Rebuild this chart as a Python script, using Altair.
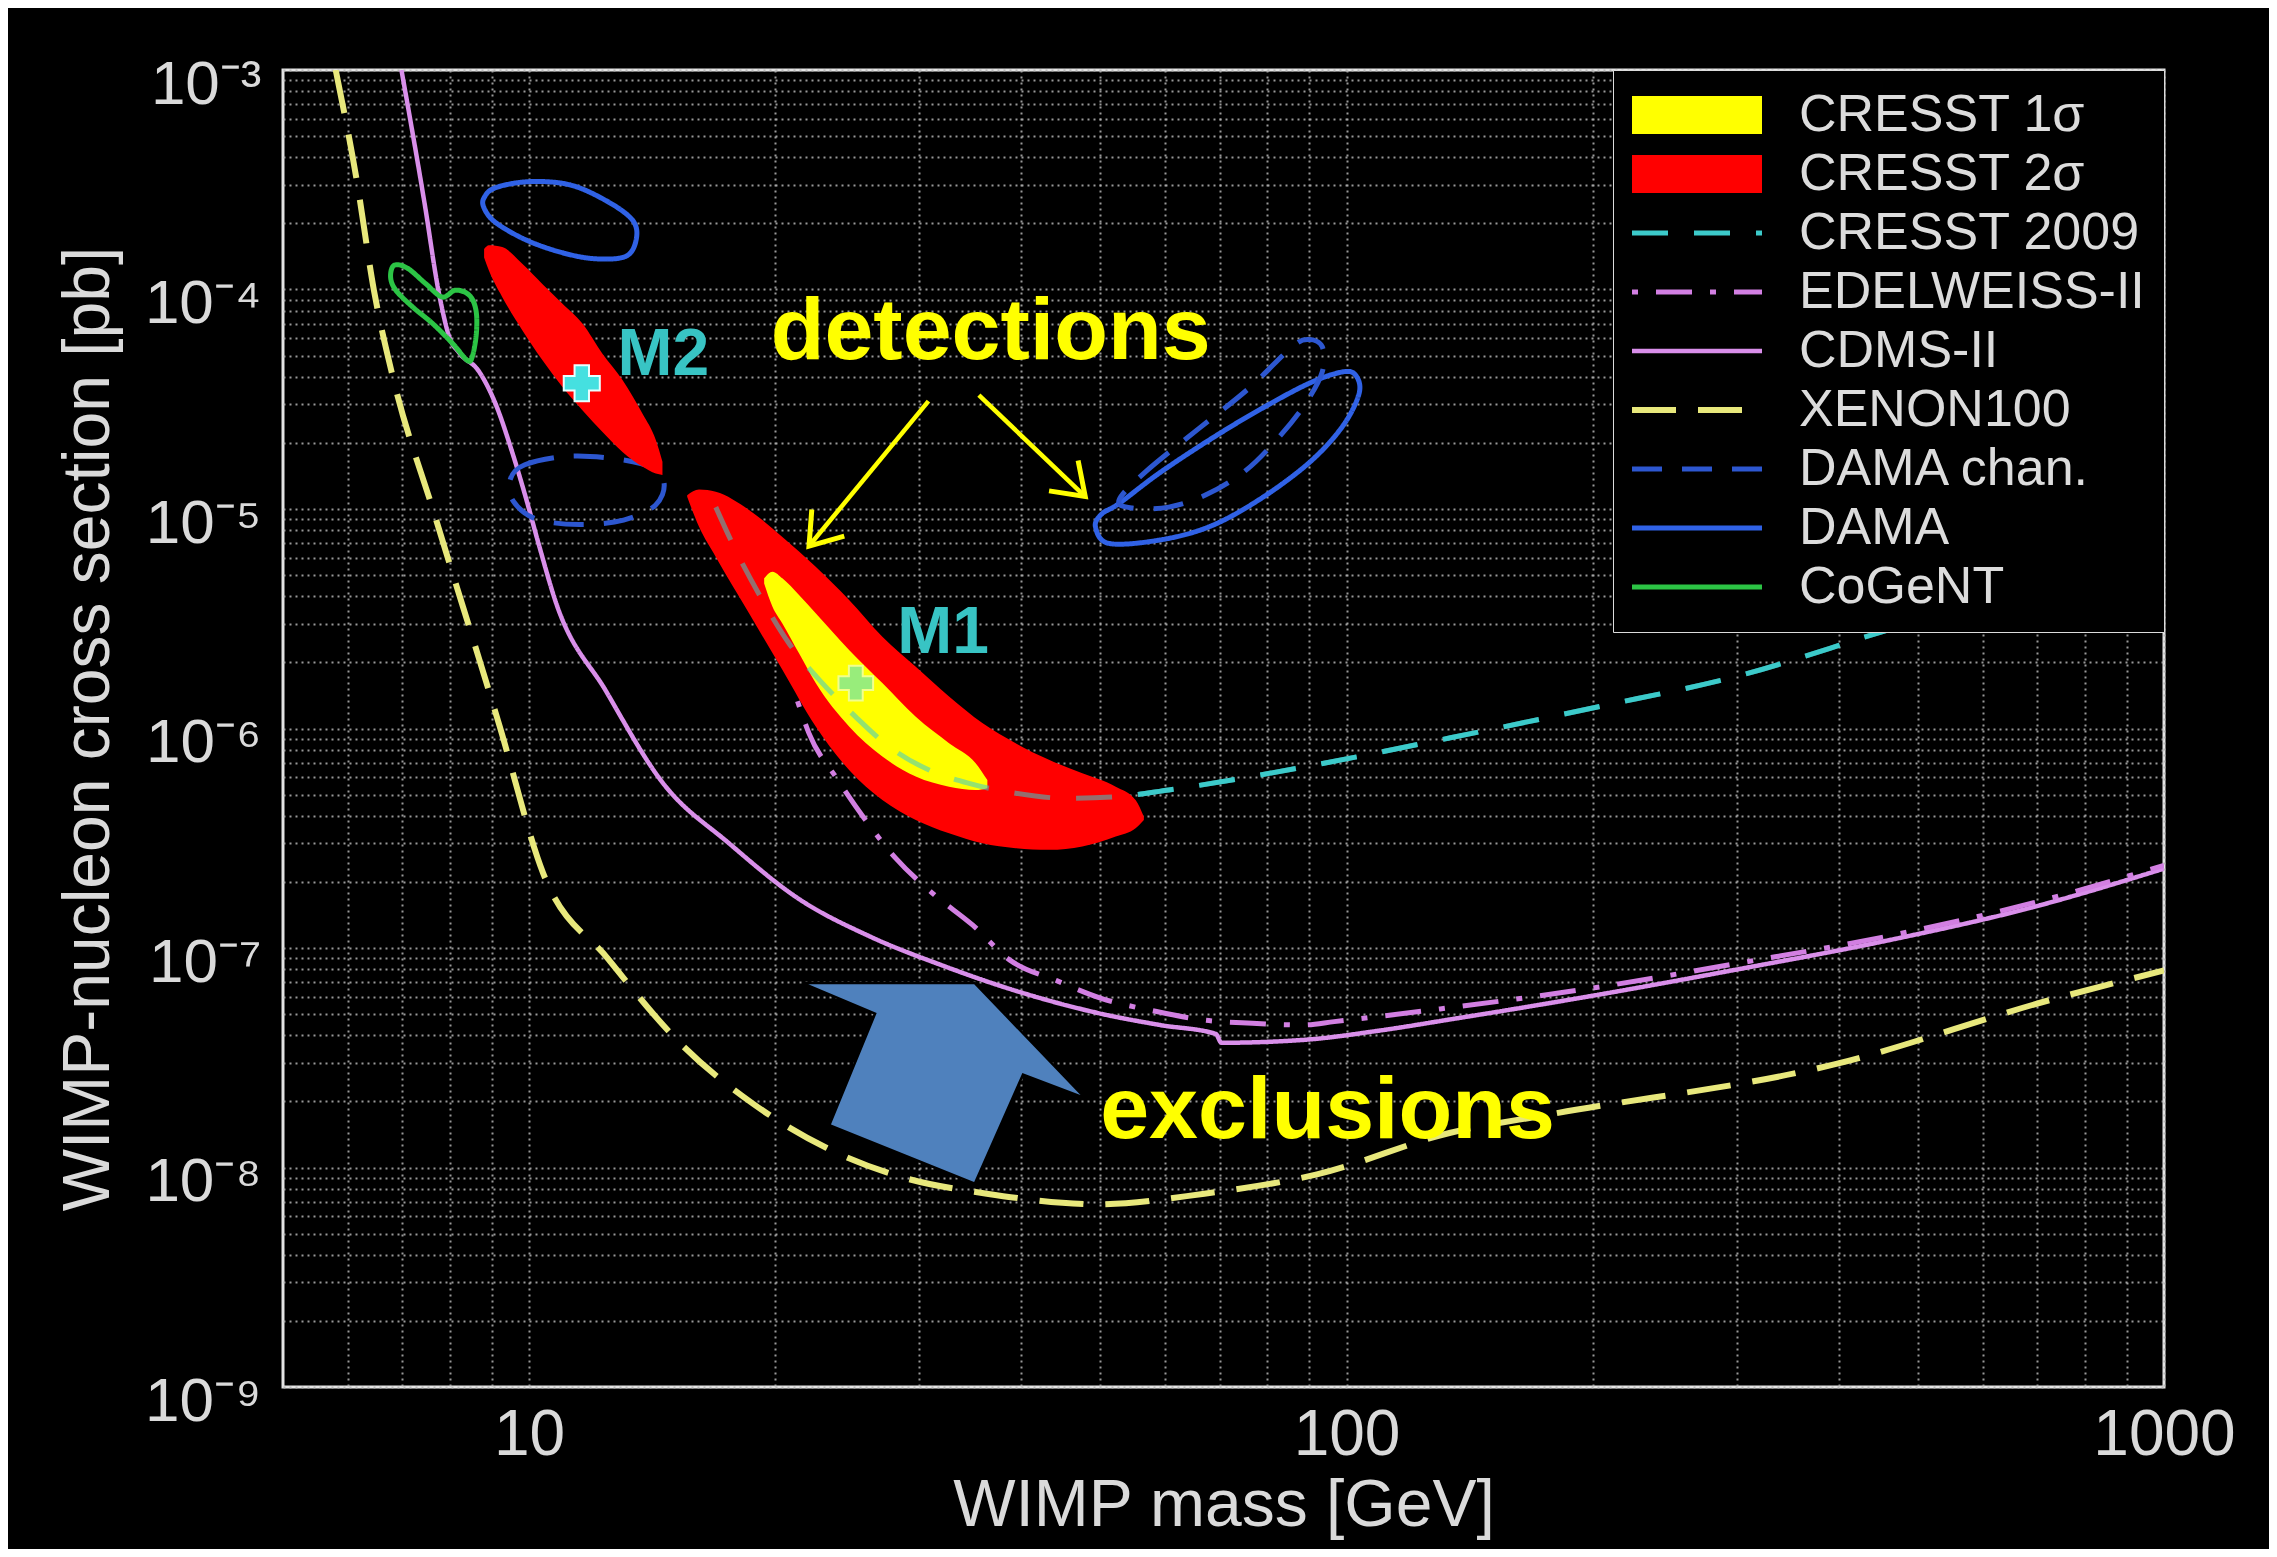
import altair as alt
import pandas as pd

# ---------------- values ----------------
series_order = ["CRESST 1σ", "CRESST 2σ", "CRESST 2009", "EDELWEISS-II", "CDMS-II",
                "XENON100", "DAMA chan.", "DAMA", "CoGeNT"]
series_colors = ["#ffff00", "#ff0000", "#3ccaca", "#d27fe2", "#d98fea",
                 "#e8e87c", "#2d57d0", "#3062e6", "#2cc445"]
series_dash = [[1, 0], [1, 0], [36, 26], [6, 18, 36, 18], [1, 0],
               [44, 22], [30, 20], [1, 0], [1, 0]]
series_width = [38, 38, 5, 5, 4.5, 6, 5, 5, 5]

xenon_x = [5.8, 6.15, 6.46, 6.81, 7.67, 9.2, 10.4, 12.5, 15.4, 18.8, 23.1, 28.4, 36.3,
           49.9, 67.0, 92.0, 134.0, 178.0, 395.0, 726.0, 1000.0]
xenon_y = [1e-3, 3.19e-4, 9.9e-5, 4.02e-5, 9.3e-6, 1.03e-6, 2.2e-7, 8.9e-8, 3.6e-8,
           1.95e-8, 1.23e-8, 9.1e-9, 7.6e-9, 6.8e-9, 7.6e-9, 9.3e-9, 1.44e-8, 1.75e-8,
           2.95e-8, 5.8e-8, 7.9e-8]

cdms_x = [6.98, 7.45, 7.76, 7.99, 8.22, 8.67, 9.10, 9.52, 9.88, 10.29, 10.76, 12.42,
          14.57, 17.58, 21.4, 26.1, 32.1, 39.3, 50.3, 59.3, 69.2, 70.3, 89.1, 109.0,
          134.0, 202.0, 304.0, 458.0, 689.0, 1000.0]
cdms_y = [1e-3, 2.47e-4, 9.57e-5, 6.06e-5, 5.13e-5, 4.27e-5, 3.01e-5, 1.85e-5, 1.17e-5,
          6.78e-6, 3.85e-6, 1.48e-6, 5.66e-7, 2.99e-7, 1.67e-7, 1.13e-7, 8.3e-8, 6.4e-8,
          5.0e-8, 4.45e-8, 4.06e-8, 3.7e-8, 3.82e-8, 4.19e-8, 4.73e-8, 6.1e-8, 8.05e-8,
          1.08e-7, 1.53e-7, 2.3e-7]

edw_x = [21.3, 22.0, 23.8, 25.7, 28.1, 31.3, 34.9, 38.7, 44.2, 50.1, 57.9, 66.7, 76.7,
         88.7, 96.6, 134.0, 202.0, 304.0, 458.0, 689.0, 1000.0]
edw_y = [1.33e-6, 9.5e-7, 5.91e-7, 3.9e-7, 2.56e-7, 1.75e-7, 1.27e-7, 8.83e-8, 7.1e-8,
         5.9e-8, 5.18e-8, 4.7e-8, 4.54e-8, 4.46e-8, 4.62e-8, 5.35e-8, 6.61e-8, 8.57e-8,
         1.13e-7, 1.6e-7, 2.38e-7]

c09_x = [16.92, 17.89, 19.29, 20.8, 22.84, 25.09, 27.56, 30.85, 34.53, 39.38, 45.35,
         52.2, 60.6, 89.1, 134.0, 202.0, 304.0, 458.0, 689.0, 1000.0]
c09_y = [1.02e-5, 6.5e-6, 3.85e-6, 2.44e-6, 1.61e-6, 1.13e-6, 8.27e-7, 6.47e-7, 5.62e-7,
         5.07e-7, 4.81e-7, 4.89e-7, 5.25e-7, 6.7e-7, 9.07e-7, 1.25e-6, 1.75e-6, 2.8e-6,
         4.35e-6, 6.6e-6]

dama1_x = [8.81, 9.10, 10.0, 11.21, 12.42, 13.37, 13.53, 13.15, 12.07, 10.99, 9.92, 9.10, 8.81]
dama1_y = [2.62e-4, 2.91e-4, 3.1e-4, 3.0e-4, 2.54e-4, 2.08e-4, 1.71e-4, 1.42e-4, 1.38e-4,
           1.47e-4, 1.68e-4, 2.02e-4, 2.35e-4]
dama2_x = [49.3, 51.2, 58.9, 67.9, 78.1, 89.9, 98.8, 103.6, 102.6, 98.8, 89.9, 78.1, 67.9,
           58.9, 52.7, 50.2]
dama2_y = [8.3e-6, 6.97e-6, 7.21e-6, 8.3e-6, 1.10e-5, 1.62e-5, 2.37e-5, 3.36e-5, 4.07e-5,
           4.21e-5, 3.73e-5, 2.82e-5, 2.06e-5, 1.45e-5, 1.06e-5, 9.5e-6]

damac1_x = [9.48, 9.88, 11.17, 12.79, 14.16, 14.63, 14.27, 13.05, 11.53, 10.2, 9.56]
damac1_y = [1.36e-5, 1.59e-5, 1.74e-5, 1.69e-5, 1.54e-5, 1.30e-5, 1.04e-5, 8.9e-6, 8.5e-6,
            9.0e-6, 1.09e-5]
damac2_x = [52.7, 56.8, 66.0, 75.9, 85.8, 89.9, 93.4, 93.4, 89.1, 82.7, 75.3, 67.3, 60.6, 54.7]
damac2_y = [1.10e-5, 1.48e-5, 2.33e-5, 3.54e-5, 5.48e-5, 5.92e-5, 5.48e-5, 4.22e-5, 3.03e-5,
            2.13e-5, 1.50e-5, 1.16e-5, 1.02e-5, 1.01e-5]

cogent_x = [6.84, 7.10, 7.48, 7.83, 8.13, 8.45, 8.61, 8.62, 8.52, 8.40, 8.06, 7.62, 7.20,
            6.87, 6.77]
cogent_y = [1.29e-4, 1.25e-4, 1.06e-4, 9.24e-5, 9.93e-5, 9.42e-5, 8.05e-5, 6.31e-5,
            4.93e-5, 4.76e-5, 5.68e-5, 7.0e-5, 8.34e-5, 9.93e-5, 1.14e-4]

# CRESST signal regions: x, upper edge, lower edge
m2_x = [8.81, 8.93, 9.27, 9.81, 10.38, 10.98, 11.62, 12.29, 13.01, 13.76, 14.29, 14.56]
m2_top = [1.53e-4, 1.59e-4, 1.56e-4, 1.31e-4, 1.06e-4, 8.63e-5, 7.0e-5, 5.11e-5, 3.87e-5,
          2.72e-5, 2.06e-5, 1.64e-5]
m2_bot = [1.40e-4, 1.22e-4, 9.25e-5, 6.53e-5, 4.77e-5, 3.61e-5, 2.82e-5, 2.25e-5, 1.82e-5,
          1.56e-5, 1.45e-5, 1.43e-5]

m1r_x = [15.61, 16.14, 16.92, 18.58, 20.41, 22.42, 24.63, 27.05, 29.72, 32.64, 35.85,
         39.38, 43.25, 47.51, 52.2, 55.2, 56.5]
m1r_top = [1.156e-5, 1.227e-5, 1.197e-5, 9.89e-6, 7.46e-6, 5.45e-6, 3.85e-6, 2.62e-6,
           1.91e-6, 1.40e-6, 1.06e-6, 8.57e-7, 7.2e-7, 6.25e-7, 5.43e-7, 4.72e-7, 3.96e-7]
m1r_bot = [1.137e-5, 8.3e-6, 6.05e-6, 3.35e-6, 1.85e-6, 1.02e-6, 6.47e-7, 4.72e-7, 3.83e-7,
           3.33e-7, 3.0e-7, 2.85e-7, 2.8e-7, 2.9e-7, 3.22e-7, 3.51e-7, 3.83e-7]

m1y_x = [19.39, 19.85, 20.41, 21.39, 22.42, 24.63, 27.05, 29.72, 32.64, 35.18, 36.36]
m1y_top = [4.83e-6, 5.18e-6, 4.83e-6, 4.06e-6, 3.35e-6, 2.28e-6, 1.61e-6, 1.13e-6,
           8.57e-7, 6.95e-7, 5.82e-7]
m1y_bot = [4.58e-6, 3.59e-6, 3.01e-6, 2.2e-6, 1.61e-6, 1.02e-6, 7.45e-7, 6.04e-7, 5.43e-7,
           5.25e-7, 5.35e-7]

# best-fit markers M2, M1
marker_x = [11.6, 25.1]
marker_y = [3.74e-5, 1.61e-6]
marker_size = [1300, 1200]
marker_op = [1.0, 0.55]

# annotations
mlabel_text = ["M2", "M1"]
mlabel_x = [14.6, 32.1]
mlabel_y = [4.08e-5, 2.2e-6]

note_text = ["detections", "exclusions"]
note_x = [36.7, 94.8]
note_y = [4.82e-5, 1.36e-8]

arrow_start_x = [30.8, 35.5]
arrow_start_y = [3.1e-5, 3.3e-5]
arrow_end_x = [22.0, 47.9]
arrow_end_y = [6.78e-6, 1.14e-5]
arrow_angle = [129.4, 43.8]

block_arrow_x = [35.1, 47.9, 40.2, 35.1, 23.3, 26.5, 21.6]
block_arrow_y = [6.92e-8, 2.07e-8, 2.65e-8, 8.45e-9, 1.56e-8, 5.02e-8, 6.92e-8]

# axis ticks / labels
x_grid = [6, 7, 8, 9, 10, 20, 30, 40, 50, 60, 70, 80, 90, 100,
          200, 300, 400, 500, 600, 700, 800, 900, 1000]
x_major = [10, 100, 1000]
x_major_labels = ["10", "100", "1000"]
y_grid = [m * 10.0 ** e for e in range(-9, -3) for m in range(1, 10)] + [1e-3]
y_major = [1e-9, 1e-8, 1e-7, 1e-6, 1e-5, 1e-4, 1e-3]
y_major_labels = ["10⁻⁹", "10⁻⁸", "10⁻⁷", "10⁻⁶", "10⁻⁵", "10⁻⁴", "10⁻³"]

# ---------------- tables ----------------
def line_rows(series, part, xs, ys):
    return [dict(series=series, part=part, x=a, y=b, i=k) for k, (a, b) in enumerate(zip(xs, ys))]

open_df = pd.DataFrame(
    line_rows("XENON100", "xe", xenon_x, xenon_y)
    + line_rows("CDMS-II", "cd", cdms_x, cdms_y)
    + line_rows("EDELWEISS-II", "ed", edw_x, edw_y)
    + line_rows("CRESST 2009", "c9", c09_x, c09_y)
)
c09_df = pd.DataFrame(line_rows("CRESST 2009", "c9", c09_x, c09_y))
closed_df = pd.DataFrame(
    line_rows("DAMA", "d1", dama1_x, dama1_y)
    + line_rows("DAMA", "d2", dama2_x, dama2_y)
    + line_rows("DAMA chan.", "dc1", damac1_x, damac1_y)
    + line_rows("DAMA chan.", "dc2", damac2_x, damac2_y)
    + line_rows("CoGeNT", "cg", cogent_x, cogent_y)
)

def region_rows(part, xs, tops, bots):
    return [dict(part=part, x=a, y=b, y2=c) for a, b, c in zip(xs, tops, bots)]

red_df = pd.DataFrame(region_rows("M2", m2_x, m2_top, m2_bot) + region_rows("M1", m1r_x, m1r_top, m1r_bot))
yellow_df = pd.DataFrame(region_rows("M1y", m1y_x, m1y_top, m1y_bot))

marker_df = pd.DataFrame(dict(x=marker_x, y=marker_y, sz=marker_size, op=marker_op))
mlabel_df = pd.DataFrame(dict(x=mlabel_x, y=mlabel_y, text=mlabel_text))
note_df = pd.DataFrame(dict(x=note_x, y=note_y, text=note_text))
shaft_rows = []
for k in range(len(arrow_start_x)):
    shaft_rows.append(dict(part=k, i=0, x=arrow_start_x[k], y=arrow_start_y[k]))
    shaft_rows.append(dict(part=k, i=1, x=arrow_end_x[k], y=arrow_end_y[k]))
shaft_df = pd.DataFrame(shaft_rows)
head_df = pd.DataFrame(dict(x=arrow_end_x, y=arrow_end_y, ang=arrow_angle))
block_df = pd.DataFrame(dict(x=block_arrow_x, y=block_arrow_y, i=list(range(len(block_arrow_x)))))

# ---------------- encodings ----------------
FONT = "Liberation Sans"
x_expr = " : ".join(f"datum.value == {v} ? '{t}'" for v, t in zip(x_major, x_major_labels)) + " : ''"
y_expr = " : ".join(f"abs(datum.value / {v} - 1) < 1e-6 ? '{t}'" for v, t in zip(y_major, y_major_labels)) + " : ''"

x_scale = alt.Scale(type="log", domain=[5, 1000], nice=False)
y_scale = alt.Scale(type="log", domain=[1e-9, 1e-3], nice=False)

x_axis = alt.Axis(values=x_grid, labelExpr=x_expr, title="WIMP mass [GeV]", grid=True,
                  ticks=False, domain=False, labelFontSize=64, titleFontSize=66,
                  labelPadding=16, titlePadding=6, labelFlush=False, labelOverlap=False)
y_axis = alt.Axis(values=y_grid, labelExpr=y_expr, title="WIMP-nucleon cross section [pb]",
                  grid=True, ticks=False, domain=False, labelFontSize=62, titleFontSize=66,
                  labelPadding=22, titlePadding=22, labelFlush=False, labelOverlap=False,
                  labelOffset=14)

x_enc = alt.X("x:Q", scale=x_scale, axis=x_axis)
y_enc = alt.Y("y:Q", scale=y_scale, axis=y_axis)

legend_def = alt.Legend(title=None, orient="top-right", offset=0, padding=19, rowPadding=7,
                        clipHeight=52,
                        fillColor="#000000", strokeColor="#dcdcdc", labelFont=FONT,
                        labelFontSize=52, labelColor="#dcdcdc", labelOffset=115,
                        labelLimit=800, symbolType="M-5.2,0H20.8", symbolSize=100, zindex=1)
stroke_enc = alt.Stroke("series:N", scale=alt.Scale(domain=series_order, range=series_colors), legend=legend_def)
dash_enc = alt.StrokeDash("series:N", scale=alt.Scale(domain=series_order, range=series_dash), legend=legend_def)
width_enc = alt.StrokeWidth("series:N", scale=alt.Scale(type="ordinal", domain=series_order, range=series_width), legend=legend_def)

c09_color = series_colors[series_order.index("CRESST 2009")]
c09_dash = series_dash[series_order.index("CRESST 2009")]
c09_width = series_width[series_order.index("CRESST 2009")]

open_lines = alt.Chart(open_df).mark_line(interpolate="monotone", clip=True).encode(
    x=x_enc, y=y_enc, stroke=stroke_enc, strokeDash=dash_enc, strokeWidth=width_enc,
    detail="part:N", order="i:Q")
closed_lines = alt.Chart(closed_df).mark_line(interpolate="cardinal-closed", clip=True).encode(
    x=x_enc, y=y_enc, stroke=stroke_enc, strokeDash=dash_enc, strokeWidth=width_enc,
    detail="part:N", order="i:Q")
red = alt.Chart(red_df).mark_area(color="#ff0000", interpolate="monotone", clip=True).encode(
    x=x_enc, y=y_enc, y2="y2:Q", detail="part:N")
yellow = alt.Chart(yellow_df).mark_area(color="#ffff00", interpolate="monotone", clip=True).encode(
    x=x_enc, y=y_enc, y2="y2:Q", detail="part:N")
c09_top = alt.Chart(c09_df).mark_line(interpolate="monotone", clip=True, stroke=c09_color,
                                      strokeDash=c09_dash, strokeWidth=c09_width,
                                      strokeOpacity=0.55).encode(
    x=x_enc, y=y_enc, order="i:Q")
markers = alt.Chart(marker_df).mark_point(shape="cross", filled=True, fill="#45e0e0",
                                          stroke="#e8ffff", strokeWidth=2).encode(
    x=x_enc, y=y_enc, size=alt.Size("sz:Q", scale=None), opacity=alt.Opacity("op:Q", scale=None))
mlabels = alt.Chart(mlabel_df).mark_text(font=FONT, fontWeight="bold", fontSize=66, color="#38c4c4",
                                         align="center", baseline="alphabetic").encode(
    x=x_enc, y=y_enc, text="text:N")
notes = alt.Chart(note_df).mark_text(font=FONT, fontWeight="bold", fontSize=88, color="#ffff00",
                                     align="center", baseline="alphabetic").encode(
    x=x_enc, y=y_enc, text="text:N")
shafts = alt.Chart(shaft_df).mark_line(color="#ffff00", strokeWidth=4.5, clip=True).encode(
    x=x_enc, y=y_enc, detail="part:N", order="i:Q")
heads = alt.Chart(head_df).mark_point(shape="M-1,-0.7L0,0L-1,0.7", filled=False, size=3600,
                                      stroke="#ffff00", strokeWidth=5, opacity=1).encode(
    x=x_enc, y=y_enc, angle=alt.Angle("ang:Q", scale=None))
block = alt.Chart(block_df).mark_line(interpolate="linear-closed", fill="#4f81bd", stroke="#000000",
                                      strokeWidth=2.5, clip=True).encode(
    x=x_enc, y=y_enc, order="i:Q")

chart = alt.layer(open_lines, closed_lines, red, yellow, c09_top, markers, mlabels, notes,
                  shafts, heads, block).properties(
    width=1881, height=1317,
    autosize=alt.AutoSizeParams(type="none"),
    padding={"left": 275, "top": 62, "right": 105, "bottom": 162},
).configure(background="#000000").configure_view(
    stroke="#e4e4e4", strokeWidth=3, fill="#000000"
).configure_axis(
    labelFont=FONT, titleFont=FONT, labelColor="#dadada", titleColor="#dadada",
    titleFontWeight="normal", gridColor="#b4b4b4", gridDash=[2, 4], gridWidth=2, gridOpacity=0.85
)

chart.save("out.html", embed_options={"renderer": "svg", "actions": False})
